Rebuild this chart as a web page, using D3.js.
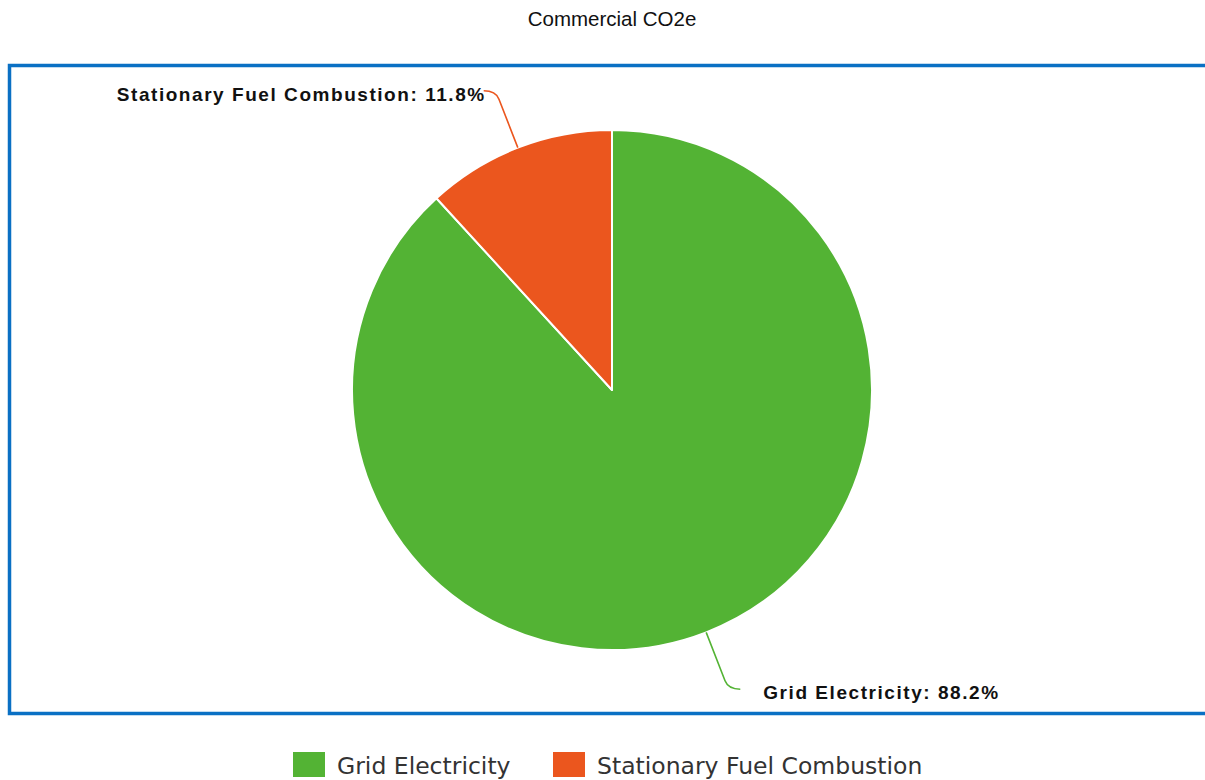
<!DOCTYPE html>
<html><head><meta charset="utf-8">
<script src="https://cdn.jsdelivr.net/npm/d3@7"></script>
<style>body{margin:0;background:#fff;}svg{display:block;}</style>
</head><body>
<svg id="chart" width="1205" height="780"></svg>
<script>
const categories = ["Grid Electricity", "Stationary Fuel Combustion"];
const values = [88.2, 11.8];
const colors = ["#53b334", "#eb561e"];
const title = "Commercial CO2e";

const svg = d3.select("#chart");
const cx = 612, cy = 390, R = 260;

svg.append("text").attr("x", 612).attr("y", 26).attr("text-anchor", "middle")
  .attr("font-family", "Liberation Sans, Arial, sans-serif").attr("font-size", 20.5)
  .attr("fill", "#111").text(title);

// frame
svg.append("path").attr("d", `M1210,65.5 H9.5 V713.5 H1210`)
  .attr("fill", "none").attr("stroke", "#0a70c4").attr("stroke-width", 3.5);

const pie = d3.pie().sort(null).value(d => d);
const arcs = pie(values);
const arc = d3.arc().innerRadius(0).outerRadius(R);
const g = svg.append("g").attr("transform", `translate(${cx},${cy})`);
g.selectAll("path.slice").data(arcs).join("path").attr("class", "slice")
  .attr("d", arc).attr("fill", (d, i) => colors[i])
  .attr("stroke", "#fff").attr("stroke-width", 2).attr("stroke-linejoin", "round");

// leader lines + labels
arcs.forEach((d, i) => {
  const a = (d.startAngle + d.endAngle) / 2;
  const sx = Math.sin(a), sy = -Math.cos(a);
  const p0 = [sx * R, sy * R];
  const p1 = [sx * (R + 52), sy * (R + 52)];
  const pc = [sx * (R + 61), sy * (R + 61)];
  const side = sx >= 0 ? 1 : -1;
  const p2 = [pc[0] + side * 12, pc[1]];
  g.append("path")
    .attr("d", `M${p0}L${p1}Q${pc} ${p2}`)
    .attr("fill", "none").attr("stroke", colors[i]).attr("stroke-width", 1.6);
  g.append("text")
    .attr("x", side > 0 ? p2[0] + 23 : p2[0] + 2)
    .attr("y", p2[1] + 10)
    .attr("text-anchor", side > 0 ? "start" : "end")
    .attr("font-family", "Liberation Sans, Arial, sans-serif")
    .attr("font-weight", "bold").attr("font-size", 19)
    .attr("letter-spacing", "1.55px")
    .attr("fill", "#111")
    .text(`${categories[i]}: ${d3.format(".1f")(values[i])}%`);
});

// legend
const leg = svg.append("g");
const legX = [293, 553];
categories.forEach((c, i) => {
  leg.append("rect").attr("x", legX[i]).attr("y", 752).attr("width", 32).attr("height", 25)
    .attr("fill", colors[i]);
  leg.append("text").attr("x", legX[i] + 44).attr("y", 773.5)
    .attr("font-family", "DejaVu Sans, sans-serif").attr("font-size", 23.5)
    .attr("fill", "#333").text(c);
});
</script>
</body></html>
